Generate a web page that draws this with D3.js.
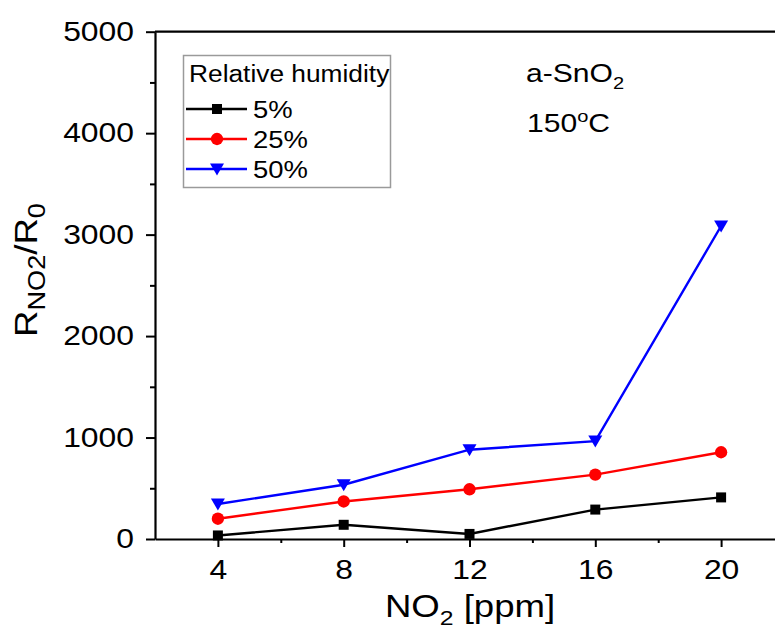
<!DOCTYPE html>
<html>
<head>
<meta charset="utf-8">
<script src="https://cdn.jsdelivr.net/npm/d3@7"></script>
<style>
  body { margin: 0; background: #fff; }
  svg { font-family: "Liberation Sans", Arial, sans-serif; }
</style>
</head>
<body>
<div id="chart"></div>
<script>
// NO2 concentration (ppm)
const concentrations = [4, 8, 12, 16, 20]
// R_NO2/R_0 at each relative humidity
const rh5 = [35, 140, 50, 290, 410]
const rh25 = [200, 370, 490, 635, 855]
const rh50 = [345, 535, 880, 965, 3085]
const seriesNames = ['5%', '25%', '50%']
const xTicks = [4, 8, 12, 16, 20]
const xMinor = [6, 10, 14, 18]
const yTicks = [0, 1000, 2000, 3000, 4000, 5000]
const yMinor = [500, 1500, 2500, 3500, 4500]

const width = 775
const height = 630
const stretch = 1.18

const series = [
  { name: seriesNames[0], values: rh5, color: '#000000', symbol: d3.symbolSquare, size: 100 },
  { name: seriesNames[1], values: rh25, color: '#ff0000', symbol: d3.symbolCircle, size: 120 },
  { name: seriesNames[2], values: rh50, color: '#0000ff', symbol: 'tri', size: 0 }
]

const svg = d3.select('#chart')
  .append('svg')
  .attr('width', width)
  .attr('height', height)

const x = d3.scaleLinear().domain([2, 22]).range([155, 784])
const y = d3.scaleLinear().domain([0, 5000]).range([539, 31.7])

// frame: top border (right side is cut off in the original)
svg.append('line')
  .attr('x1', x(2)).attr('x2', x(22))
  .attr('y1', y(5000)).attr('y2', y(5000))
  .attr('stroke', '#000').attr('stroke-width', 2.2)

// minor ticks
svg.append('g')
  .attr('transform', `translate(0,${y(0)})`)
  .call(d3.axisBottom(x).tickValues(xMinor).tickSize(4).tickSizeOuter(0).tickFormat(''))
  .call(g => g.select('.domain').remove())
  .selectAll('line').attr('stroke-width', 2)

svg.append('g')
  .attr('transform', `translate(${x(2)},0)`)
  .call(d3.axisLeft(y).tickValues(yMinor).tickSize(5).tickSizeOuter(0).tickFormat(''))
  .call(g => g.select('.domain').remove())
  .selectAll('line').attr('stroke-width', 2)

// major axes
const xAxis = svg.append('g')
  .attr('transform', `translate(0,${y(0)})`)
  .call(d3.axisBottom(x).tickValues(xTicks).tickSize(8).tickSizeOuter(0).tickPadding(13))
xAxis.select('.domain').attr('stroke-width', 2.2)
xAxis.selectAll('line').attr('stroke-width', 2)
xAxis.selectAll('text')
  .attr('font-size', 27)
  .attr('fill', '#000')
  .attr('transform', `scale(${stretch},1)`)

const yAxis = svg.append('g')
  .attr('transform', `translate(${x(2)},0)`)
  .call(d3.axisLeft(y).tickValues(yTicks).tickSize(9).tickSizeOuter(0).tickFormat(d3.format('d')))
yAxis.select('.domain').attr('stroke-width', 2.2)
yAxis.selectAll('line').attr('stroke-width', 2)
yAxis.selectAll('text')
  .attr('font-size', 27)
  .attr('fill', '#000')
  .attr('x', 0)
  .attr('transform', `translate(-21,0) scale(${stretch},1)`)

// lines
const line = d3.line()
  .x((d, i) => x(concentrations[i]))
  .y(d => y(d))

const triangle = 'M-7,-5.5L7,-5.5L0,6.5Z'

function marker (sel, s) {
  if (s.symbol === 'tri') {
    sel.append('path').attr('d', triangle).attr('fill', s.color)
  } else {
    sel.append('path').attr('d', d3.symbol().type(s.symbol).size(s.size)()).attr('fill', s.color)
  }
}

series.forEach(s => {
  svg.append('path')
    .datum(s.values)
    .attr('fill', 'none')
    .attr('stroke', s.color)
    .attr('stroke-width', 2.4)
    .attr('d', line)

  svg.selectAll(null)
    .data(s.values)
    .enter()
    .append('g')
    .attr('transform', (d, i) => `translate(${x(concentrations[i])},${y(d)})`)
    .each(function () { marker(d3.select(this), s) })
})

// legend
const legend = svg.append('g')
legend.append('rect')
  .attr('x', 183.5).attr('y', 55.5)
  .attr('width', 207).attr('height', 132)
  .attr('fill', '#fff')
  .attr('stroke', '#9a9a9a')
  .attr('stroke-width', 1.5)

legend.append('text')
  .attr('transform', 'translate(189,82) scale(1.12,1)')
  .attr('font-size', 23.5)
  .text('Relative humidity')

series.forEach((s, i) => {
  const cy = 109 + i * 30
  legend.append('line')
    .attr('x1', 186).attr('x2', 247)
    .attr('y1', cy).attr('y2', cy)
    .attr('stroke', s.color).attr('stroke-width', 2.4)
  const g = legend.append('g').attr('transform', `translate(217,${cy})`)
  marker(g, s)
  legend.append('text')
    .attr('transform', `translate(253,${cy + 8.5}) scale(1.12,1)`)
    .attr('font-size', 24.5)
    .text(s.name)
})

// annotations
const t1 = svg.append('text')
  .attr('transform', `translate(526,82) scale(${stretch},1)`)
  .attr('font-size', 25.5)
t1.append('tspan').text('a-SnO')
t1.append('tspan').attr('font-size', 17).attr('dy', 7).text('2')

const t2 = svg.append('text')
  .attr('transform', `translate(527,132) scale(${stretch},1)`)
  .attr('font-size', 25.5)
t2.append('tspan').text('150')
t2.append('tspan').attr('font-size', 17).attr('dy', -10).text('o')
t2.append('tspan').attr('dy', 10).text('C')

// axis titles
const xt = svg.append('text')
  .attr('transform', `translate(470,617) scale(${stretch},1)`)
  .attr('text-anchor', 'middle')
  .attr('font-size', 31)
xt.append('tspan').text('NO')
xt.append('tspan').attr('font-size', 21).attr('dy', 8).text('2')
xt.append('tspan').attr('dy', -8).text(' [ppm]')

const yt = svg.append('text')
  .attr('transform', `translate(37,270) rotate(-90) scale(${stretch},1)`)
  .attr('text-anchor', 'middle')
  .attr('font-size', 31)
yt.append('tspan').text('R')
yt.append('tspan').attr('font-size', 23).attr('dy', 8).text('NO2')
yt.append('tspan').attr('dy', -8).text('/R')
yt.append('tspan').attr('font-size', 23).attr('dy', 8).text('0')
</script>
</body>
</html>
